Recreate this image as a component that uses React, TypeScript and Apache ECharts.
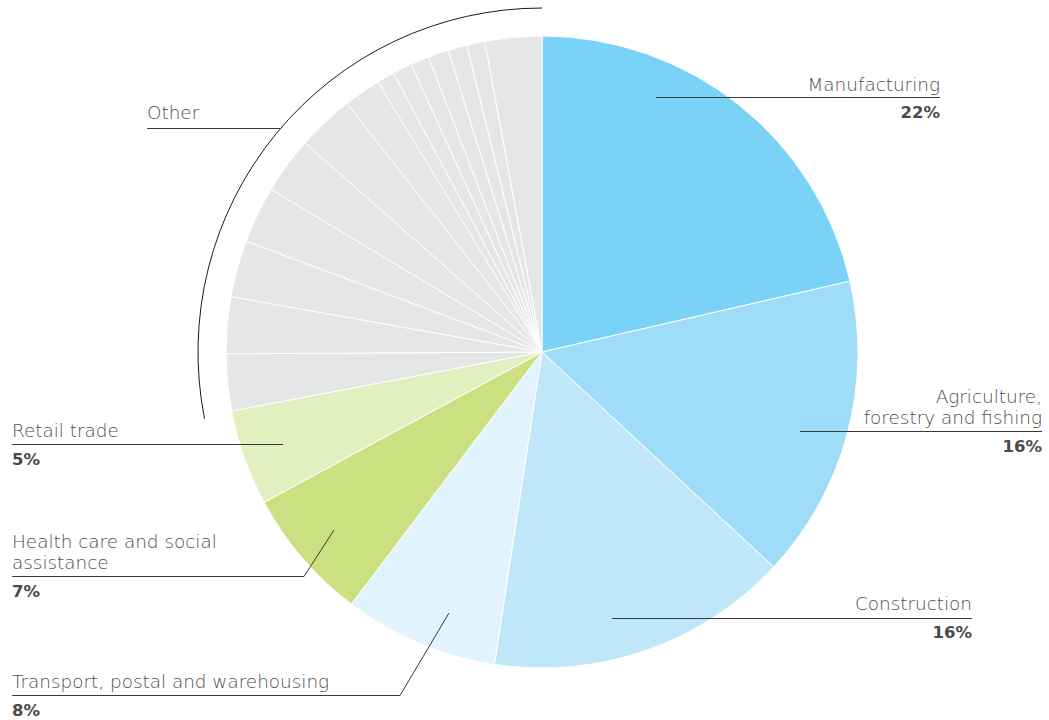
import React, { useEffect, useRef } from "react";
import * as echarts from "echarts";

// ---- data ----
const mainCategories = [
  "Manufacturing",
  "Agriculture,\nforestry and fishing",
  "Construction",
  "Transport, postal and warehousing",
  "Health care and social\nassistance",
  "Retail trade",
];
const mainValues = [21.4, 15.5, 15.5, 7.9, 6.8, 4.9];
const mainPercentLabels = ["22%", "16%", "16%", "8%", "7%", "5%"];
const mainColors = ["#7ad2f6", "#9fdcf7", "#bfe6f9", "#e1f3fc", "#cde081", "#e2efbf"];

const otherLabel = "Other";
const otherValues = [2.9, 2.9, 2.9, 2.9, 2.9, 2.9, 1.9, 0.9, 1.0, 0.95, 1.05, 0.97, 0.92, 2.9];
const otherColor = "#e5e6e8";

// ---- layout (pixels) ----
const CX = 542;
const CY = 352;
const R = 316;
const ARC_R = 344;

type LabelLayout = {
  textX: number;
  nameY: number;
  lineH?: number;
  pctY: number;
  align: "left" | "right";
  points: number[][];
};

const labelLayouts: LabelLayout[] = [
  { textX: 940, nameY: 84, pctY: 112, align: "right", points: [[656, 97.5], [940, 97.5]] },
  { textX: 1042, nameY: 406.5, lineH: 21, pctY: 446, align: "right", points: [[800, 431.5], [1042, 431.5]] },
  { textX: 972, nameY: 603, pctY: 632, align: "right", points: [[612, 618.5], [972, 618.5]] },
  { textX: 12, nameY: 681, pctY: 710, align: "left", points: [[12, 695.5], [400, 695.5], [449, 613]] },
  { textX: 12, nameY: 552, lineH: 21, pctY: 591, align: "left", points: [[12, 576.5], [304, 576.5], [334, 530]] },
  { textX: 12, nameY: 430, pctY: 459, align: "left", points: [[12, 444.5], [283, 444.5]] },
];
const otherLayout = { textX: 147, nameY: 112, points: [[147, 128.5], [280, 128.5]] };

const FONT = "'DejaVu Sans', sans-serif";
const NAME_COLOR = "#4e4e4e";
const PCT_COLOR = "#4a4a4a";
const LINE_COLOR = "#3a3a3a";
const TOP_Z = 100;

export default function App() {
  const ref = useRef<HTMLDivElement>(null);

  useEffect(() => {
    if (!ref.current) return;
    const chart = echarts.init(ref.current, undefined, { renderer: "svg" });

    const pieData = [
      ...mainValues.map((v, i) => ({
        name: mainCategories[i],
        value: v,
        itemStyle: { color: mainColors[i] },
      })),
      ...otherValues.map((v, i) => ({
        name: `${otherLabel} ${i + 1}`,
        value: v,
        itemStyle: { color: otherColor },
      })),
    ];

    const total = [...mainValues, ...otherValues].reduce((a, b) => a + b, 0);
    const mainSum = mainValues.reduce((a, b) => a + b, 0);
    const otherStartDeg = (mainSum / total) * 360 - 0.4; // clockwise from 12 o'clock
    const toScreen = (deg: number) => ((deg - 90) * Math.PI) / 180;

    const graphics: any[] = [];
    labelLayouts.forEach((l, i) => {
      graphics.push({
        type: "text",
        x: l.textX,
        y: l.nameY,
        z: TOP_Z,
        silent: true,
        style: {
          text: mainCategories[i],
          fontFamily: FONT,
          fontSize: 18.4,
          fontWeight: 300,
          lineHeight: l.lineH || 21,
          fill: NAME_COLOR,
          align: l.align,
          verticalAlign: "middle",
        },
      });
      graphics.push({
        type: "text",
        x: l.textX,
        y: l.pctY,
        z: TOP_Z,
        silent: true,
        style: {
          text: mainPercentLabels[i],
          fontFamily: FONT,
          fontSize: 16.5,
          fontWeight: "bold",
          fill: PCT_COLOR,
          align: l.align,
          verticalAlign: "middle",
        },
      });
      graphics.push({
        type: "polyline",
        z: TOP_Z,
        silent: true,
        shape: { points: l.points },
        style: { stroke: LINE_COLOR, lineWidth: 1, fill: null },
      });
    });

    graphics.push({
      type: "text",
      x: otherLayout.textX,
      y: otherLayout.nameY,
      z: TOP_Z,
      silent: true,
      style: {
        text: otherLabel,
        fontFamily: FONT,
        fontSize: 18.4,
        fontWeight: 300,
        fill: NAME_COLOR,
        align: "left",
        verticalAlign: "middle",
      },
    });
    graphics.push({
      type: "polyline",
      z: TOP_Z,
      silent: true,
      shape: { points: otherLayout.points },
      style: { stroke: LINE_COLOR, lineWidth: 1, fill: null },
    });
    graphics.push({
      type: "arc",
      z: TOP_Z,
      silent: true,
      shape: {
        cx: CX,
        cy: CY,
        r: ARC_R,
        startAngle: toScreen(otherStartDeg),
        endAngle: toScreen(360),
        clockwise: true,
      },
      style: { stroke: "#1a1a1a", lineWidth: 1, fill: null },
    });

    chart.setOption({
      animation: false,
      backgroundColor: "#ffffff",
      series: [
        {
          type: "pie",
          z: 1,
          center: [CX, CY],
          radius: R,
          startAngle: 90,
          clockwise: true,
          avoidLabelOverlap: false,
          silent: true,
          label: { show: false },
          labelLine: { show: false },
          emphasis: { disabled: true },
          itemStyle: { borderColor: "#ffffff", borderWidth: 1 },
          data: pieData,
        },
      ],
      graphic: { elements: graphics },
    });

    return () => chart.dispose();
  }, []);

  return (
    <div
      ref={ref}
      style={{ position: "absolute", left: 0, top: 0, width: 1049, height: 720 }}
    />
  );
}
